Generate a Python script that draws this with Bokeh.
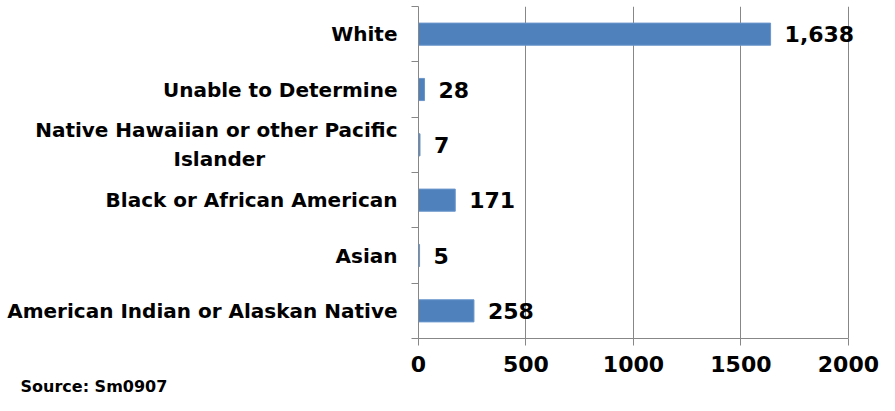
import numpy as np
from bokeh.plotting import figure
from bokeh.models import FixedTicker, ColumnDataSource, LabelSet, Range1d, Title
from bokeh.core.properties import value
from bokeh.embed import file_html
from bokeh.resources import INLINE

categories = ["American Indian or Alaskan Native", "Asian", "Black or African American",
              "Native Hawaiian or other Pacific\nIslander", "Unable to Determine", "White"]
counts = [258, 5, 171, 7, 28, 1638]
x_ticks = [0, 500, 1000, 1500, 2000]
source_note = "Source: Sm0907"

FONT = "DejaVu Sans"
BAR = "#4F81BD"
GRID = "#878787"

ypos = np.arange(len(categories)) + 0.5
src = ColumnDataSource(dict(y=ypos, v=counts, lbl=[f"{c:,}" for c in counts]))


def axis_text(c):
    # centre the wrapped second line under the first line, as in the original
    if "\n" in c:
        first, second = c.split("\n")
        return first + "\n" + second + "\u00a0" * 19
    return c


x_max = x_ticks[-1]
LEFT = 418
# a little room past the last tick so the largest value label is not clipped
p = figure(width=879, height=395, output_backend="svg", toolbar_location=None,
           x_range=Range1d(0, x_max * 1.07), y_range=Range1d(0, len(categories)),
           min_border_left=LEFT, min_border_right=1, min_border_top=6, min_border_bottom=0)
p.outline_line_color = None
p.background_fill_color = "white"

p.hbar(y="y", right="v", left=0, height=0.4, source=src, fill_color=BAR, line_color="#6A96CC", line_width=1)
p.add_layout(LabelSet(x="v", y="y", text="lbl", source=src, x_offset=14, text_baseline="middle",
                      text_align="left", text_font=value(FONT), text_font_style="bold",
                      text_font_size="22px", text_color="black"))

# x axis
p.xaxis.ticker = FixedTicker(ticks=x_ticks)
p.xaxis.bounds = (0, x_max)
p.xaxis.axis_line_color = GRID
p.xaxis.major_tick_line_color = GRID
p.xaxis.major_tick_out = 7
p.xaxis.major_tick_in = 0
p.xaxis.minor_tick_line_color = None
p.xaxis.major_label_text_font = FONT
p.xaxis.major_label_text_font_style = "bold"
p.xaxis.major_label_text_font_size = "22px"
p.xaxis.major_label_text_color = "black"
p.xaxis.major_label_standoff = 10

# y axis
p.yaxis.ticker = FixedTicker(ticks=list(ypos), minor_ticks=list(range(len(categories) + 1)))
p.yaxis.major_label_overrides = {float(y): axis_text(c) for y, c in zip(ypos, categories)}
p.yaxis.axis_line_color = GRID
p.yaxis.major_tick_line_color = None
p.yaxis.major_tick_out = 0
p.yaxis.major_tick_in = 0
p.yaxis.minor_tick_line_color = GRID
p.yaxis.minor_tick_out = 7
p.yaxis.minor_tick_in = 0
p.yaxis.major_label_text_font = FONT
p.yaxis.major_label_text_font_style = "bold"
p.yaxis.major_label_text_font_size = "20px"
p.yaxis.major_label_text_color = "black"
p.yaxis.major_label_standoff = 14

p.xgrid.ticker = FixedTicker(ticks=x_ticks)
p.xgrid.grid_line_color = GRID
p.ygrid.grid_line_color = None

note = Title(text=source_note, align="left", offset=-(LEFT - 20), standoff=0,
             text_font=FONT, text_font_style="bold", text_font_size="16px", text_color="black")
p.add_layout(note, "below")

open("out.html", "w").write(file_html(p, INLINE))
